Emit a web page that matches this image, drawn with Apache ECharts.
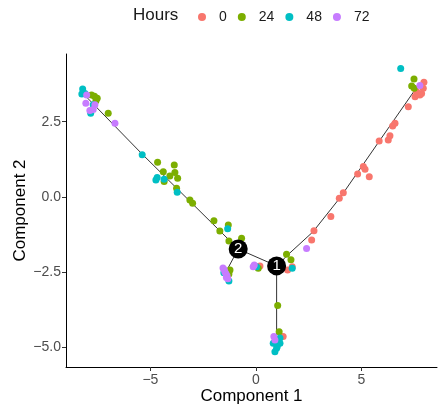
<!DOCTYPE html>
<html>
<head>
<meta charset="utf-8">
<script src="https://cdn.jsdelivr.net/npm/echarts@6/dist/echarts.min.js"></script>
<style>
  html, body { margin: 0; padding: 0; background: #fff; }
  #chart { width: 439px; height: 407px; }
</style>
</head>
<body>
<div id="chart"></div>
<script>
// cells per time point, [component 1, component 2]
var hours0 = [[1.72, -2.32], [1.50, -2.43], [0.19, -2.29], [2.64, -1.43], [2.75, -1.12], [3.55, -0.65],
    [3.95, -0.04], [4.14, 0.14], [4.82, 0.76], [5.37, 0.67], [5.09, 1.01], [5.17, 0.92], [5.84, 1.86],
    [6.27, 1.89], [6.35, 2.03], [6.48, 2.36], [6.59, 2.45], [7.22, 3.00], [7.54, 3.33], [7.77, 3.39],
    [7.85, 3.44], [7.61, 3.50], [7.96, 3.81], [7.93, 3.61], [7.65, 3.45], [1.29, -4.64]];
var hours24 = [[-7.79, 3.39], [-7.52, 3.28], [-7.58, 3.20], [-7.00, 2.78], [-7.65, 3.35],
    [-4.66, 1.15], [-3.87, 1.06], [-4.39, 0.84], [-3.84, 0.81], [-4.08, 0.70], [-3.71, 0.62],
    [-4.35, 0.51], [-3.76, 0.29], [-3.13, -0.10], [-3.00, -0.21], [-1.99, -0.79], [-1.71, -1.13],
    [-1.31, -0.93], [-1.28, -1.46], [-0.68, -1.37], [-1.23, -2.43], [-1.28, -2.56], [0.11, -2.37],
    [1.45, -1.90], [1.66, -2.09], [1.03, -3.61], [1.10, -4.48], [7.49, 3.92], [7.38, 3.69], [7.50, 3.61]];
var hours48 = [[-8.21, 3.59], [-8.10, 3.44], [-8.25, 3.42], [-7.83, 2.78], [-7.71, 3.06], [-5.39, 1.40],
    [-4.68, 0.65], [-4.74, 0.56], [-4.35, 0.59], [-3.73, 0.16], [-1.34, -1.06], [-1.28, -2.79],
    [-1.52, -2.52], [0.03, -2.32], [1.72, -2.37], [1.14, -4.69], [0.82, -4.86], [1.14, -4.86],
    [0.98, -5.03], [0.90, -5.14], [1.01, -4.97], [6.86, 4.27]];
var hours72 = [[-8.02, 3.39], [-8.06, 3.11], [-7.63, 3.06], [-7.87, 2.87], [-7.71, 2.91], [-6.68, 2.45],
    [-1.56, -2.36], [-1.50, -2.42], [-1.47, -2.49], [-1.42, -2.55], [-1.37, -2.62], [-1.40, -2.68],
    [-1.33, -2.72], [-0.13, -2.32], [-0.08, -2.26], [2.40, -1.71], [0.85, -4.64], [0.90, -4.75], [7.77, 3.70]];

// trajectory tree
var treeUpperLeft = [[-8.0, 3.3], [-5.4, 1.43], [-0.84, -1.73]];
var treeMiddle = [[-0.84, -1.73], [0.98, -2.29]];
var treeBranch2 = [[-0.84, -1.73], [-1.42, -2.49]];
var treeDown = [[0.98, -2.29], [0.98, -4.62]];
var treeRight = [[0.98, -2.29], [1.61, -1.86], [2.70, -1.16], [3.98, -0.03], [5.88, 1.89], [7.30, 3.32], [7.6, 3.62]];
var branchNodes = [[0.98, -2.29, '1'], [-0.84, -1.73, '2']];

var hourNames = ['0', '24', '48', '72'];
var hourColors = ['#F8766D', '#7CAE00', '#00BFC4', '#C77CFF'];
var xTicks = [-5, 0, 5];
var yTicks = [-5, -2.5, 0, 2.5];

var chart = echarts.init(document.getElementById('chart'));

function fmtMinus(s) {
    return String(s).replace('-', '\u2212');
}

function treeSeries(data) {
    return {
        type: 'line',
        data: data,
        symbol: 'none',
        silent: true,
        z: 1,
        lineStyle: {color: '#333333', width: 1}
    };
}

var pointSets = [hours0, hours24, hours48, hours72];
var series = [treeUpperLeft, treeMiddle, treeBranch2, treeDown, treeRight].map(treeSeries);
pointSets.forEach(function (pts, i) {
    series.push({
        name: hourNames[i],
        type: 'scatter',
        data: pts,
        symbolSize: 7,
        z: 2,
        itemStyle: {color: hourColors[i], opacity: 1}
    });
});
series.push({
    type: 'scatter',
    data: branchNodes,
    symbolSize: 19,
    z: 3,
    itemStyle: {color: '#000000', opacity: 1},
    label: {
        show: true,
        position: 'inside',
        formatter: function (p) { return p.data[2]; },
        color: '#ffffff',
        fontSize: 15,
        fontFamily: 'Liberation Sans'
    }
});

chart.setOption({
    backgroundColor: '#fff',
    animation: false,
    textStyle: {fontFamily: 'Liberation Sans'},
    title: {
        text: 'Hours',
        left: 128,
        top: 2,
        textStyle: {fontSize: 17, fontWeight: 'normal', color: '#1a1a1a', fontFamily: 'Liberation Sans'}
    },
    legend: {
        data: hourNames,
        left: 193,
        top: 5,
        icon: 'circle',
        itemWidth: 8,
        itemHeight: 8,
        itemGap: 11,
        textStyle: {fontSize: 14, color: '#1a1a1a', padding: [0, 0, 0, 8]}
    },
    grid: {left: 66, right: 2, top: 54, bottom: 40, outerBoundsMode: 'none'},
    xAxis: {
        type: 'value',
        min: -9.0,
        max: 8.58,
        name: 'Component 1',
        nameLocation: 'middle',
        nameGap: 21,
        nameMoveOverlap: false,
        nameTextStyle: {fontSize: 17, color: '#000'},
        axisLine: {onZero: false, lineStyle: {color: '#000', width: 1}},
        axisTick: {customValues: xTicks, length: 4, lineStyle: {color: '#333'}},
        axisLabel: {customValues: xTicks, fontSize: 14, color: '#4d4d4d', margin: 6, formatter: fmtMinus},
        splitLine: {show: false}
    },
    yAxis: {
        type: 'value',
        min: -5.65,
        max: 4.75,
        name: 'Component 2',
        nameLocation: 'middle',
        nameGap: 37,
        nameMoveOverlap: false,
        nameTextStyle: {fontSize: 17, color: '#000'},
        axisLine: {onZero: false, lineStyle: {color: '#000', width: 1}},
        axisTick: {customValues: yTicks, length: 4, lineStyle: {color: '#333'}},
        axisLabel: {
            customValues: yTicks, fontSize: 14, color: '#4d4d4d', margin: 5,
            formatter: function (v) { return fmtMinus(v.toFixed(1)); }
        },
        splitLine: {show: false}
    },
    series: series
});
</script>
</body>
</html>
